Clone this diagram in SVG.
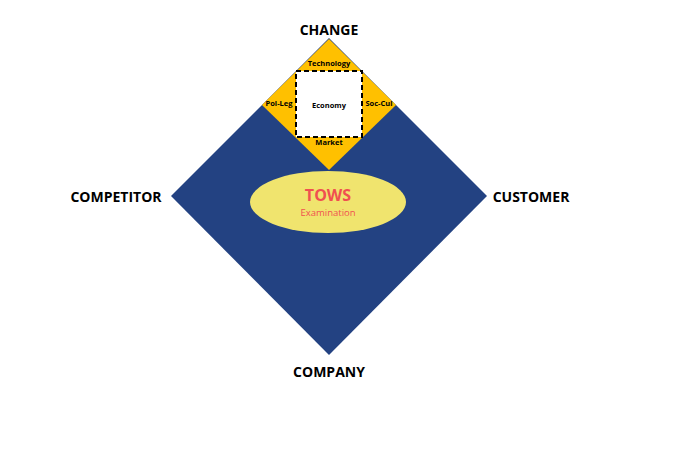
<svg xmlns="http://www.w3.org/2000/svg" width="686" height="453" viewBox="0 0 686 453">
<style>
.lbl{font-family:"Open Sans","Liberation Sans",sans-serif;font-weight:bold;font-size:14px;fill:#000;text-anchor:middle}
.sm{font-family:"Open Sans","Liberation Sans",sans-serif;font-weight:bold;font-size:7.5px;fill:#000;text-anchor:middle}
</style>
<rect width="686" height="453" fill="#fff"/>
<g id="company-diamond"><polygon points="329,38 487,196 329,355 171,196" fill="#234282"/></g>
<g id="change-diamond"><polygon points="329,39 396,105 329,170 262,105" fill="#FFC000"/></g>
<g id="economy"><rect x="296" y="71" width="66" height="66" fill="#fff" stroke="#000" stroke-width="2" stroke-dasharray="5,3"/>
<text class="sm" x="329" y="108">Economy</text></g>
<g id="labels">
<text class="sm" x="329" y="66">Technology</text>
<text class="sm" x="279" y="106">Pol-Leg</text>
<text class="sm" x="379" y="106">Soc-Cul</text>
<text class="sm" x="329" y="145">Market</text>
<text class="lbl" x="329" y="35">CHANGE</text>
<text class="lbl" x="116" y="202">COMPETITOR</text>
<text class="lbl" x="531" y="202">CUSTOMER</text>
<text class="lbl" x="329" y="377">COMPANY</text>
</g>
<g id="tows"><ellipse cx="328" cy="202" rx="78" ry="31" fill="#F0E46E"/>
<text x="328" y="201" font-family="Open Sans, Liberation Sans, sans-serif" font-weight="bold" font-size="16" fill="#F05050" text-anchor="middle">TOWS</text>
<text x="328" y="216" font-family="Open Sans, Liberation Sans, sans-serif" font-size="9.5" fill="#F05050" text-anchor="middle">Examination</text></g>
<g id="connectors"/>
</svg>
